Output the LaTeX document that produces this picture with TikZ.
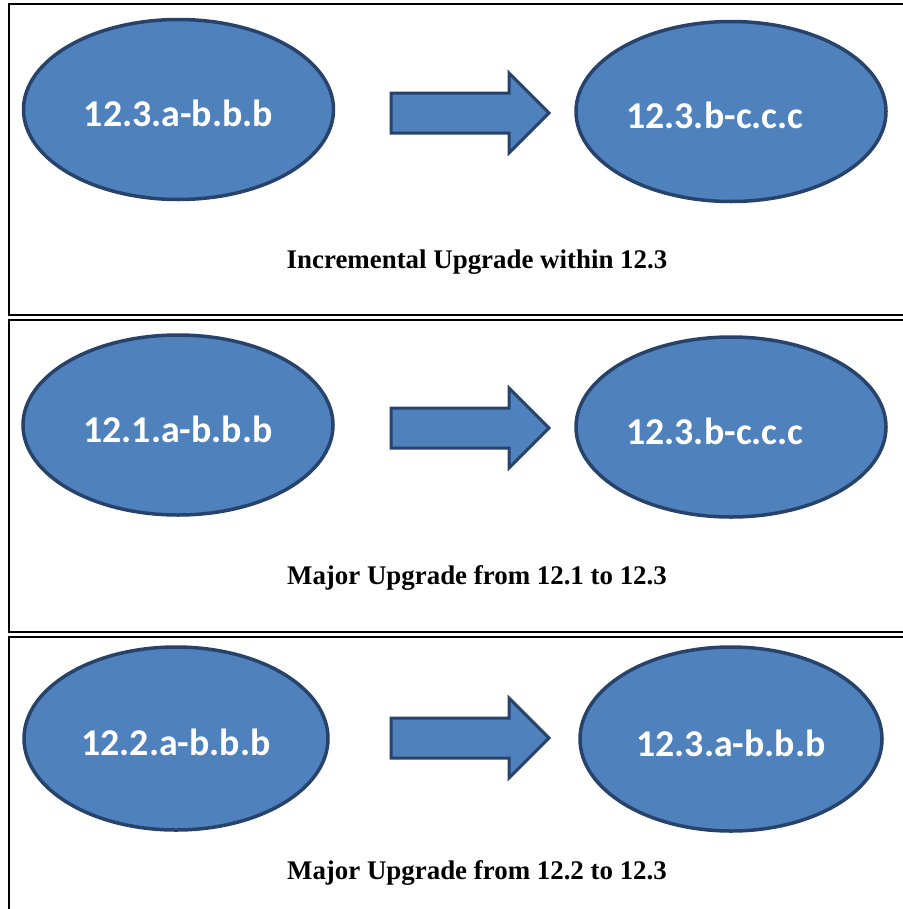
\documentclass[tikz,border=0pt]{standalone}
\usepackage{fontspec}
\setmainfont{Liberation Serif}
\newfontfamily\calib{Carlito}
\usetikzlibrary{positioning,shapes.geometric}

\definecolor{ovalfill}{HTML}{4F81BD}
\definecolor{ovaledge}{HTML}{27436B}

\tikzset{
  version/.style={ellipse,draw=ovaledge,fill=ovalfill,line width=3.5bp,inner sep=0pt,
    minimum width=310bp,minimum height=180bp,text=white,text height=34bp,text depth=0pt,
    font=\calib\bfseries\fontsize{38}{42}\selectfont},
  frame/.style={draw=black,line width=2bp},
  caption/.style={font=\bfseries\fontsize{27}{30}\selectfont},
  fatarrow/.style={draw=ovaledge,fill=ovalfill,line width=3bp,line join=miter}
}
\newcommand{\offleft}{\hspace*{-32bp}}

\begin{document}
\begin{tikzpicture}[x=1bp,y=-1bp]
        \useasboundingbox (0,0) rectangle (903,909);
        \clip (0,0) rectangle (903,909);
        % frames
        \draw[frame] (9,4) rectangle (920,315);
        \draw[frame] (9,320) rectangle (920,632);
        \draw[frame] (9,637) rectangle (920,940);
        % incremental
        \node[version] (old1) at (178.5,109.5) {12.3.a-b.b.b};
        \node[version] (new1) at (731,111.5) {\offleft 12.3.b-c.c.c};
        \node[caption] (cap1) at (477,262) {Incremental Upgrade within 12.3};
        % major from 12.1
        \node[version] (old2) at (178,425) {12.1.a-b.b.b};
        \node[version] (new2) at (731,427) {\offleft 12.3.b-c.c.c};
        \node[caption] (cap2) at (477,578) {Major Upgrade from 12.1 to 12.3};
        % major from 12.2
        \node[version,minimum width=304bp,minimum height=183bp] (old3) at (176,738.5) {12.2.a-b.b.b};
        \node[version,minimum width=302bp,minimum height=184bp] (new3) at (731,739) {12.3.a-b.b.b};
        \node[caption] (cap3) at (477,873) {Major Upgrade from 12.2 to 12.3};
        % block arrows
        \foreach \y in {113,428,738}
          \draw[fatarrow] (391,\y-20) -- (509,\y-20) -- (509,\y-40) -- (549,\y)
            -- (509,\y+40) -- (509,\y+20) -- (391,\y+20) -- cycle;
\end{tikzpicture}
\end{document}
